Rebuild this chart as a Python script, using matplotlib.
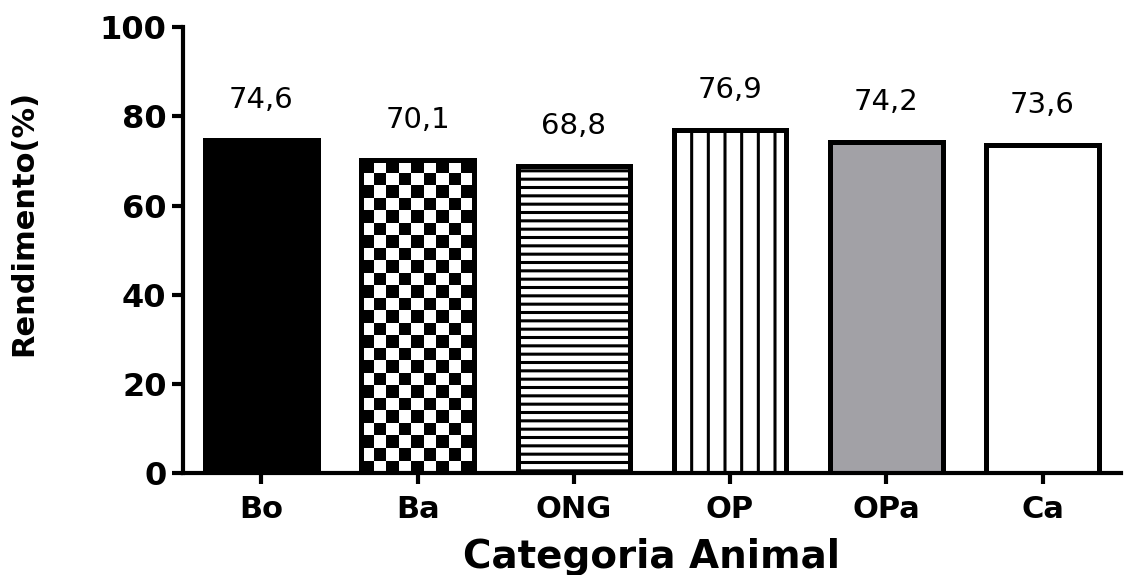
import numpy as np
import matplotlib
matplotlib.use("Agg")
import matplotlib.pyplot as plt

# data
categories = ["Bo", "Ba", "ONG", "OP", "OPa", "Ca"]
rendimento = [74.6, 70.1, 68.8, 76.9, 74.2, 73.6]
labels = ["74,6", "70,1", "68,8", "76,9", "74,2", "73,6"]
yticks = [0, 20, 40, 60, 80, 100]

plt.rcParams['font.family'] = ['DejaVu Sans']
plt.rcParams['hatch.linewidth'] = 2.2
plt.rcParams['hatch.color'] = 'black'

fig = plt.figure(figsize=(11.24, 5.75), dpi=100)
ax = fig.add_axes([0.163, 0.177, 0.834, 0.776])

x = np.arange(len(categories))
faces = ['black', 'none', 'white', 'white', '#a2a1a6', 'white']
hatches = [None, None, '--', '|', None, None]

bars = ax.bar(x, rendimento, width=0.72, color=faces, edgecolor='black',
              linewidth=3.6, zorder=2)
for b, h in zip(bars, hatches):
    if h:
        b.set_hatch(h)

ax.set_xlim(-0.5, 5.5)
ax.set_ylim(0, 100)

# checkerboard for "Ba" bar, clipped to the bar
fig.canvas.draw()
b = bars[1]
x0, y0 = b.get_x(), b.get_y()
w, h = b.get_width(), b.get_height()
p0 = ax.transData.transform((x0, y0))
p1 = ax.transData.transform((x0 + w, y0 + h))
cols = 9
sq = (p1[0] - p0[0]) / cols
rows = int(round((p1[1] - p0[1]) / sq))
checker = (np.add.outer(np.arange(rows), np.arange(cols)) % 2).astype(float)
img = ax.imshow(checker, cmap='gray', extent=(x0, x0 + w, y0, y0 + rows * sq * h / (p1[1] - p0[1])),
                aspect='auto', interpolation='nearest', zorder=1, origin='lower')
img.set_clip_path(b)

# value labels
for xi, v, lab in zip(x, rendimento, labels):
    ax.annotate(lab, (xi, v), xytext=(0, 29), textcoords='offset points',
                ha='center', va='center', fontsize=21)

ax.set_xticks(x)
ax.set_xticklabels(categories, fontsize=22, fontweight='bold')
ax.set_yticks(yticks)
ax.set_yticklabels([str(t) for t in yticks], fontsize=23, fontweight='heavy')
ax.tick_params(axis='y', length=8, width=3, direction='out', pad=4)
ax.tick_params(axis='x', length=8, width=3, direction='out', pad=8)

for s in ['top', 'right']:
    ax.spines[s].set_visible(False)
for s in ['left', 'bottom']:
    ax.spines[s].set_linewidth(3)

ax.set_xlabel('Categoria Animal', fontsize=28, fontweight='bold', labelpad=10)
ax.set_ylabel('Rendimento(%)', fontsize=22, fontweight='bold')
ax.yaxis.set_label_coords(-0.155, 0.56)

fig.savefig('out.png', dpi=100)
